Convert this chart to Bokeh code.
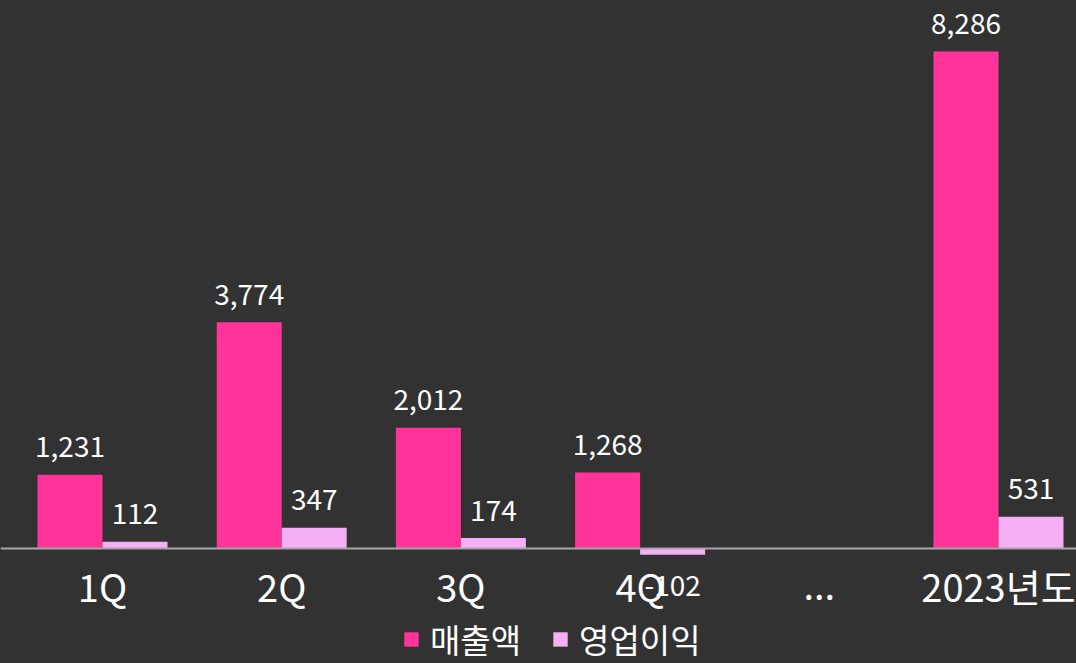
from bokeh.plotting import figure
from bokeh.models import ColumnDataSource, Range1d, Legend, LegendItem, Span
from bokeh.transform import dodge
from bokeh.core.properties import value
from bokeh.embed import file_html
from bokeh.resources import INLINE

# ---- data ----
categories = ["1Q", "2Q", "3Q", "4Q", "...", "2023년도"]
revenue = [1231, 3774, 2012, 1268, None, 8286]
profit = [112, 347, 174, -102, None, 531]
series_names = ["매출액", "영업이익"]

BG = "#323232"
REV_COLOR = "#FF3399"
PROF_COLOR = "#F5B0F5"
FONT = "Noto Sans CJK KR"

BAR_W = 0.3627
OFF = BAR_W / 2


def make_source(vals):
    idx = [i for i, v in enumerate(vals) if v is not None]
    return ColumnDataSource(dict(
        x=[i + 0.5 for i in idx],
        top=[vals[i] for i in idx],
        label=[f"{vals[i]:,}" for i in idx],
        yoff=[-28 if vals[i] >= 0 else 31 for i in idx],
    ))


rev_src = make_source(revenue)
prof_src = make_source(profit)
cat_src = ColumnDataSource(dict(
    x=[i + 0.5 for i in range(len(categories))],
    y=[0] * len(categories),
    label=categories,
))

p = figure(
    width=1076, height=663,
    x_range=Range1d(-0.0692, 5.9353), y_range=Range1d(-1917, 9136),
    output_backend="svg", toolbar_location=None,
    x_axis_location=None, y_axis_location=None,
    background_fill_color=BG, border_fill_color=BG, outline_line_color=None,
    min_border=0,
)
p.grid.visible = False

r1 = p.vbar(x=dodge("x", -OFF), top="top", bottom=0, width=BAR_W, source=rev_src,
            fill_color=REV_COLOR, line_color=None)
r2 = p.vbar(x=dodge("x", OFF), top="top", bottom=0, width=BAR_W, source=prof_src,
            fill_color=PROF_COLOR, line_color=None)

p.add_layout(Span(location=0, dimension="width", line_color="#A6A6A6", line_width=2))

# category labels along the baseline
p.text(x="x", y="y", text="label", y_offset=37, source=cat_src,
       text_align="center", text_baseline="alphabetic", text_color="white",
       text_font=value(FONT), text_font_size="38px")

# value labels
for src, off in ((rev_src, -OFF), (prof_src, OFF)):
    p.text(x=dodge("x", off), y="top", text="label", y_offset="yoff", source=src,
           text_align="center", text_baseline="alphabetic", text_color="white",
           text_font=value(FONT), text_font_size="28px")

legend = Legend(items=[LegendItem(label=series_names[0], renderers=[r1]),
                       LegendItem(label=series_names[1], renderers=[r2])],
                orientation="horizontal", location=(402, 0),
                label_text_color="white", label_text_font=FONT, label_text_font_size="33px",
                glyph_width=18, glyph_height=18, label_standoff=10, spacing=30,
                padding=0, margin=0, background_fill_alpha=0, border_line_alpha=0)
p.add_layout(legend, "center")

html = file_html(p, INLINE)
html = html.replace("</head>", f"<style>html,body{{background:{BG};}}</style></head>", 1)
open("out.html", "w").write(html)
